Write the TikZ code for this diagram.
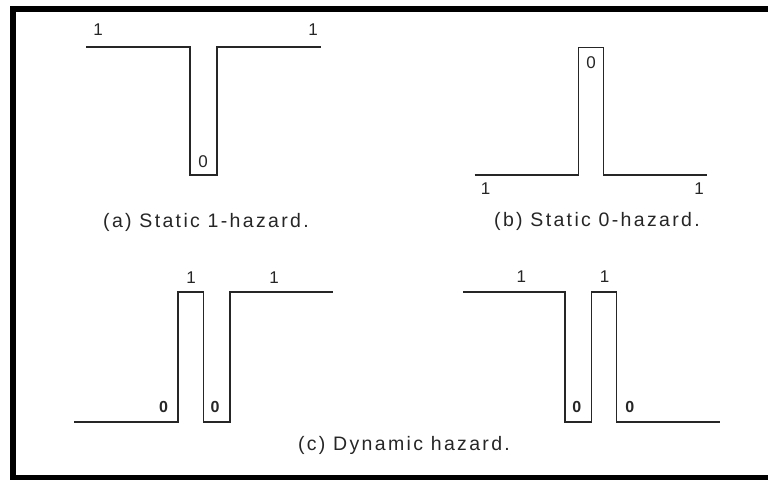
\documentclass[tikz,border=0pt]{standalone}
\usepackage{fontspec}
\setmainfont{Liberation Sans}
\newfontfamily\capfont[LetterSpace=12]{Liberation Sans}
\definecolor{ink}{HTML}{262626}
\begin{document}
\begin{tikzpicture}[x=1pt,y=-1pt,
  wave/.style={draw=ink,line width=1.6pt,line join=miter},
  lvl/.style={text=ink,inner sep=0pt,font=\fontsize{17}{19}\selectfont},
  lowz/.style={lvl,font=\fontsize{16}{18}\selectfont\bfseries},
  caption/.style={text=ink,inner sep=0pt,font=\capfont\fontsize{19.5}{22}\selectfont}]
  \useasboundingbox (0,0) rectangle (768,479);
  \begin{scope}
    \clip (0,0) rectangle (768,479);
    \fill[white] (0,0) rectangle (768,479);
    % outer frame
    \draw[line width=6.5pt] (780,9) -- (13,9) -- (13,478.5) -- (780,478.5);
  \end{scope}

  % (a) static 1-hazard
  \draw[wave] (86,47) -- (190,47) -- (190,175) -- (216.7,175) -- (216.7,47) -- (320.7,47);
  \node[lvl] (a1) at (98,30) {1};
  \node[lvl] (a2) at (313,30) {1};
  \node[lvl] (a0) at (203,162) {0};
  \node[caption] (capa) at (206,222) {(a) Static 1-hazard.};

  % (b) static 0-hazard
  \draw[wave] (474.5,175) -- (578.3,175) -- (578.3,47.5) -- (603.3,47.5) -- (603.3,175) -- (706.7,175);
  \node[lvl] (b0) at (591,63) {0};
  \node[lvl] (b1) at (485.5,189) {1};
  \node[lvl] (b2) at (699,189) {1};
  \node[caption] (capb) at (597,221) {(b) Static 0-hazard.};

  % (c) dynamic hazard, rising
  \draw[wave] (74,421.7) -- (177.7,421.7) -- (177.7,292) -- (203.3,292) -- (203.3,421.7)
    -- (230,421.7) -- (230,292) -- (332.7,292);
  \node[lvl] (c1) at (191,278) {1};
  \node[lvl] (c2) at (274,278) {1};
  \node[lowz] (c3) at (163.5,406.5) {0};
  \node[lowz] (c4) at (215,406.5) {0};

  % (c) dynamic hazard, falling
  \draw[wave] (463,292) -- (565,292) -- (565,421.7) -- (591.3,421.7) -- (591.3,292)
    -- (616.3,292) -- (616.3,421.7) -- (720,421.7);
  \node[lvl] (d1) at (521.3,277) {1};
  \node[lvl] (d2) at (604.7,277) {1};
  \node[lowz] (d3) at (576.7,406.5) {0};
  \node[lowz] (d4) at (629.7,406.5) {0};

  \node[caption] (capc) at (404,445) {(c) Dynamic hazard.};
\end{tikzpicture}
\end{document}
